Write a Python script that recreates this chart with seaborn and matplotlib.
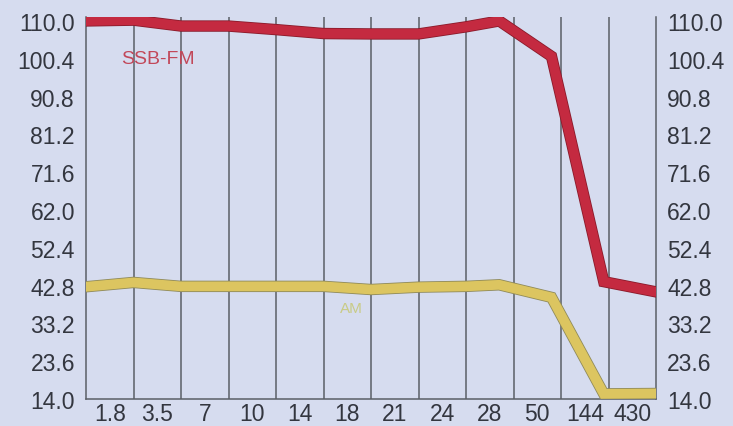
import matplotlib
matplotlib.use("Agg")
import matplotlib.pyplot as plt
import matplotlib.patheffects as pe
import numpy as np
import pandas as pd
import seaborn as sns

# ---- data ----
categories = ["1.8", "3.5", "7", "10", "14", "18", "21", "24", "28", "50", "144", "430"]
# positions along the axis in category-boundary units where points were read
x_pos = [0, 1, 2, 3, 4, 5, 6, 7, 8, 8.7, 9.8, 10.9, 12]
ssb_fm = [110.0, 110.2, 108.7, 108.7, 107.8, 106.8, 106.7, 106.7, 108.5, 110.0, 101.0, 43.8, 41.2]
am = [42.5, 43.6, 42.6, 42.6, 42.6, 42.6, 41.8, 42.4, 42.6, 43.0, 39.8, 15.3, 15.4]
y_ticks = [14.0, 23.6, 33.2, 42.8, 52.4, 62.0, 71.6, 81.2, 90.8, 100.4, 110.0]

df = pd.DataFrame({
    "x": x_pos * 2,
    "value": ssb_fm + am,
    "series": ["SSB-FM"] * len(x_pos) + ["AM"] * len(x_pos),
})

sns.set_theme(style="white")
plt.rcParams["font.family"] = ["Liberation Sans", "DejaVu Sans"]

bg = "#d6dcef"
fig = plt.figure(figsize=(7.33, 4.27), dpi=100, facecolor=bg)
ax = fig.add_axes([86 / 733, 1 - 400 / 427, (656 - 86) / 733, (400 - 18) / 427])
ax.set_facecolor(bg)

palette = {"SSB-FM": "#c42a40", "AM": "#dcc560"}
sns.lineplot(data=df, x="x", y="value", hue="series", palette=palette,
             linewidth=7, legend=False, ax=ax, sort=False, zorder=3)
edges = {"SSB-FM": "#8a1a2a", "AM": "#8f8a5a"}
for line, name in zip(ax.get_lines(), ["SSB-FM", "AM"]):
    line.set_solid_joinstyle("miter")
    line.set_path_effects([pe.Stroke(linewidth=8.2, foreground=edges[name]), pe.Normal()])

ax.set_xlim(0, 12)
ax.set_ylim(14, 111)
ax.set_xticks(np.arange(len(categories)) + 0.5)
ax.set_xticklabels(categories)
ax.set_yticks(y_ticks)
ax.set_yticklabels([f"{v:.1f}" for v in y_ticks])
ax.tick_params(axis="both", length=0, labelsize=16.5, colors="#33363f", pad=8)
ax.tick_params(axis="x", pad=2)
ax.tick_params(axis="y", labelright=True, right=False)
ax.set_xlabel("")
ax.set_ylabel("")

for i in range(1, 12):
    ax.axvline(i, color="#5b5f66", linewidth=1.1, zorder=1)

for side in ["left", "right", "bottom"]:
    ax.spines[side].set_visible(True)
    ax.spines[side].set_color("#5b5f66")
    ax.spines[side].set_linewidth(1.1)
ax.spines["top"].set_visible(False)

ax.text(0.75, 100.4, "SSB-FM", fontsize=14, color="#c2485a", va="center", zorder=4)
ax.text(5.35, 37.0, "AM", fontsize=11, color="#c9cb86", va="center", zorder=4)

fig.savefig("out.png", dpi=100, facecolor=bg)
